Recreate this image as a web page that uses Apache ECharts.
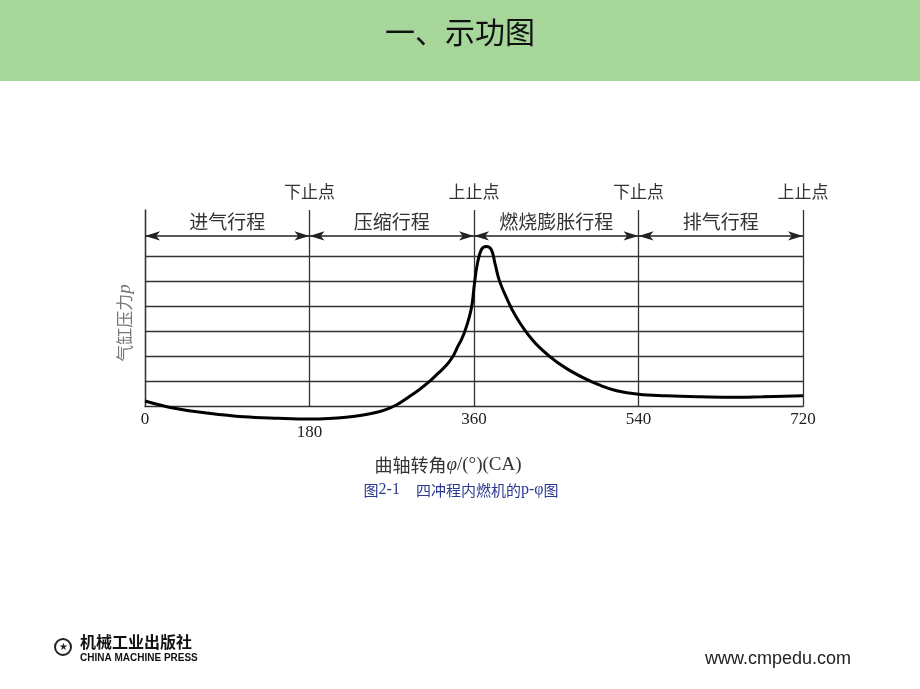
<!DOCTYPE html>
<html>
<head>
<meta charset="utf-8">
<script src="https://cdn.jsdelivr.net/npm/echarts@6/dist/echarts.min.js"></script>
<style>
html,body{margin:0;padding:0;background:#fff;}
#chart{width:920px;height:689px;}
</style>
</head>
<body>
<div id="chart"></div>
<script>
// ---- data ----
const crankAngle = [0, 32, 70, 108, 146, 180, 220, 256, 275, 289, 300, 311, 320, 330, 337, 342, 346, 350, 355, 358, 360.5, 363.5, 368, 373.5, 379, 383, 387.5, 395, 406, 424, 443, 461, 481, 497, 516, 540, 570, 604, 640, 675, 720];
const cylinderPressure = [0.22, -0.07, -0.27, -0.41, -0.47, -0.50, -0.43, -0.21, 0.06, 0.39, 0.67, 0.99, 1.30, 1.65, 2.0, 2.38, 2.65, 3.0, 3.58, 4.1, 4.9, 5.65, 6.25, 6.38, 6.25, 5.7, 5.05, 4.38, 3.58, 2.65, 1.99, 1.52, 1.12, 0.86, 0.63, 0.49, 0.43, 0.39, 0.37, 0.39, 0.43];
const xTicks = [0, 180, 360, 540, 720];
const strokeBoundaries = [0, 180, 360, 540, 720];
const strokeNames = ['进气行程', '压缩行程', '燃烧膨胀行程', '排气行程'];
const deadCenterNames = ['', '下止点', '上止点', '下止点', '上止点'];
const pressureGridLevels = [1, 2, 3, 4, 5, 6];
const arrowLevel = 6.8;
const yMax = 7.835;

const CJK = '"Noto Sans CJK SC", sans-serif';
const SERIF = '"Liberation Serif", "DejaVu Serif", serif';
const LINE = '#333';

const chart = echarts.init(document.getElementById('chart'), null, {renderer: 'canvas'});

const pressureData = crankAngle.map((a, i) => [a, cylinderPressure[i]]);
const pAt180 = cylinderPressure[crankAngle.indexOf(180)];

const arrowLines = strokeNames.map((n, i) => [
  {name: n, coord: [strokeBoundaries[i], arrowLevel]},
  {coord: [strokeBoundaries[i + 1], arrowLevel]}
]);

const option = {
  backgroundColor: '#ffffff',
  animation: false,
  grid: {left: 145, right: 117, top: 210, bottom: 282.5, containLabel: false},
  xAxis: [{
    type: 'value', min: 0, max: 720, interval: 180, position: 'bottom',
    axisLine: {show: true, onZero: false, lineStyle: {color: LINE, width: 1.3}},
    axisTick: {show: false},
    splitLine: {show: true, lineStyle: {color: LINE, width: 1.3}},
    axisLabel: {
      margin: 5, color: '#222', fontFamily: SERIF, fontSize: 17,
      formatter: v => v === 180 ? '{low|' + v + '}' : String(v),
      rich: {low: {padding: [13, 0, 0, 0], fontFamily: SERIF, fontSize: 17, color: '#222'}}
    }
  }, {
    type: 'value', min: 0, max: 720, interval: 180, position: 'top',
    axisLine: {show: false}, axisTick: {show: false}, splitLine: {show: false},
    axisLabel: {
      margin: 10, color: '#333', fontFamily: CJK, fontSize: 17,
      formatter: v => deadCenterNames[xTicks.indexOf(v)] || ''
    }
  }],
  yAxis: {
    type: 'value', min: 0, max: yMax,
    axisLine: {show: true, lineStyle: {color: LINE, width: 1.3}},
    axisTick: {show: false}, axisLabel: {show: false}, splitLine: {show: false}
  },
  graphic: [
    {type: 'rect', left: 0, top: 0, shape: {width: 920, height: 81}, style: {fill: '#a7d69b'}, z: -10},
    {type: 'text', left: 'center', top: 17, style: {text: '一、示功图', fontFamily: CJK, fontSize: 30, fill: '#111'}},
    {type: 'text', x: 125, y: 323, rotation: Math.PI / 2, style: {
      text: '{c|气缸压力}{i|p}', align: 'center', verticalAlign: 'middle',
      rich: {c: {fontFamily: CJK, fontSize: 17, fill: '#777'}, i: {fontFamily: SERIF, fontStyle: 'italic', fontSize: 19, fill: '#777'}}
    }},
    {type: 'text', x: 448, y: 465, style: {
      text: '{c|曲轴转角}{i|φ}{s|/(°)(CA)}', align: 'center', verticalAlign: 'middle',
      rich: {c: {fontFamily: CJK, fontSize: 18, fill: '#333'}, i: {fontFamily: SERIF, fontStyle: 'italic', fontSize: 19, fill: '#333'}, s: {fontFamily: SERIF, fontSize: 19, fill: '#333'}}
    }},
    {type: 'text', x: 461, y: 490, style: {
      text: '{s|图}{l|2-1    }{s|四冲程内燃机的}{l|p-φ}{s|图}', align: 'center', verticalAlign: 'middle',
      rich: {s: {fontFamily: CJK, fontSize: 15, fill: '#2b3990'}, l: {fontFamily: SERIF, fontSize: 16, fill: '#2b3990'}}
    }},
    {type: 'circle', shape: {cx: 63, cy: 647, r: 8}, style: {fill: 'none', stroke: '#222', lineWidth: 2}},
    {type: 'text', x: 63, y: 647, style: {text: '★', align: 'center', verticalAlign: 'middle', fontSize: 10, fill: '#222'}},
    {type: 'text', x: 80, y: 642, style: {text: '机械工业出版社', verticalAlign: 'middle', fontFamily: CJK, fontWeight: 'bold', fontSize: 16, fill: '#111'}},
    {type: 'text', x: 80, y: 658, style: {text: 'CHINA MACHINE PRESS', verticalAlign: 'middle', fontFamily: '"Liberation Sans", Arial, sans-serif', fontWeight: 'bold', fontSize: 10, fill: '#111'}},
    {type: 'text', x: 705, y: 659, style: {text: 'www.cmpedu.com', verticalAlign: 'middle', fontFamily: '"Liberation Sans", Arial, sans-serif', fontSize: 18, fill: '#222'}}
  ],
  series: [{
    type: 'line',
    data: pressureData,
    smooth: 0.4,
    clip: false,
    showSymbol: false,
    lineStyle: {color: '#000', width: 3},
    z: 5,
    markLine: {
      silent: true, symbol: 'none', animation: false,
      lineStyle: {color: LINE, width: 1.3, type: 'solid'},
      label: {show: false},
      data: pressureGridLevels.map(v => ({yAxis: v}))
        .concat([[{coord: [180, 0]}, {coord: [180, pAt180]}]])
    }
  }, {
    type: 'line', data: [], silent: true,
    markLine: {
      silent: true, animation: false,
      symbol: ['arrow', 'arrow'], symbolSize: [7, 15],
      lineStyle: {color: '#222', width: 1.5, type: 'solid'},
      label: {show: true, position: 'middle', formatter: p => p.name, distance: 5,
        color: '#333', fontFamily: CJK, fontSize: 19},
      data: arrowLines
    }
  }]
};
chart.setOption(option);
</script>
</body>
</html>
